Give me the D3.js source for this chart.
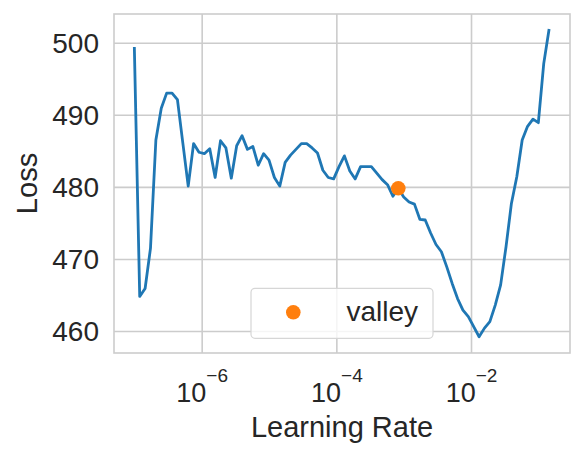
<!DOCTYPE html>
<html>
<head>
<meta charset="utf-8">
<script src="https://cdn.jsdelivr.net/npm/d3@7/dist/d3.min.js"></script>
<style>
  html, body { margin: 0; padding: 0; background: #fff; }
  svg { display: block; }
  text { font-family: "Liberation Sans", Arial, sans-serif; fill: #262626; }
</style>
</head>
<body>
<svg id="chart" width="584" height="459"></svg>
<script>
// Learning rates (exponential schedule)
const learningRates = [
  1.000e-7, 1.202e-7, 1.445e-7, 1.738e-7, 2.089e-7, 2.512e-7, 3.020e-7, 3.631e-7, 4.365e-7, 5.248e-7,
  6.310e-7, 7.586e-7, 9.120e-7, 1.096e-6, 1.318e-6, 1.585e-6, 1.905e-6, 2.291e-6, 2.754e-6, 3.311e-6,
  3.981e-6, 4.786e-6, 5.754e-6, 6.918e-6, 8.318e-6, 1.000e-5, 1.202e-5, 1.445e-5, 1.738e-5, 2.089e-5,
  2.512e-5, 3.020e-5, 3.631e-5, 4.365e-5, 5.248e-5, 6.310e-5, 7.586e-5, 9.120e-5, 1.096e-4, 1.318e-4,
  1.585e-4, 1.905e-4, 2.291e-4, 2.754e-4, 3.311e-4, 3.981e-4, 4.786e-4, 5.754e-4, 6.918e-4, 8.318e-4,
  1.000e-3, 1.202e-3, 1.445e-3, 1.738e-3, 2.089e-3, 2.512e-3, 3.020e-3, 3.631e-3, 4.365e-3, 5.248e-3,
  6.310e-3, 7.586e-3, 9.120e-3, 1.096e-2, 1.318e-2, 1.585e-2, 1.905e-2, 2.291e-2, 2.754e-2, 3.311e-2,
  3.981e-2, 4.786e-2, 5.754e-2, 6.918e-2, 8.318e-2, 1.000e-1, 1.202e-1, 1.445e-1
];
// Loss values
const losses = [
  499.4, 464.8, 465.9, 471.5, 486.5, 490.9, 493.0, 493.0, 492.1, 486.1,
  480.1, 486.0, 484.8, 484.6, 485.3, 481.3, 486.4, 485.4, 481.2, 485.7,
  487.1, 485.2, 485.6, 483.0, 484.6, 483.7, 481.3, 480.1, 483.4, 484.4,
  485.2, 486.0, 486.0, 485.4, 484.7, 482.3, 481.3, 481.1, 482.8, 484.3,
  482.2, 481.1, 482.8, 482.8, 482.8, 481.9, 481.0, 480.3, 478.7, 479.8,
  478.6, 477.9, 477.6, 475.5, 475.4, 473.6, 472.0, 471.0, 468.9, 466.6,
  464.5, 462.9, 462.0, 460.6, 459.2, 460.4, 461.3, 463.6, 466.4, 471.7,
  477.7, 481.4, 486.5, 488.4, 489.4, 488.9, 497.1, 501.9
];
// Suggested point
const valleyLabel = ["valley"];
const valleyLr = [8.318e-4];
const valleyLoss = [479.8];
// Tick values / labels
const xTickValues = [1e-6, 1e-4, 1e-2];
const xTickExponents = ["\u22126", "\u22124", "\u22122"];
const yTickValues = [460, 470, 480, 490, 500];
const xLabel = "Learning Rate";
const yLabel = "Loss";

(function () {
const svg = d3.select("#chart");
const mLeft = 114, mRight = 570, mTop = 14, mBottom = 353;

const x = d3.scaleLog().domain([Math.pow(10, -7.302), Math.pow(10, -0.530)]).range([mLeft, mRight]);
const y = d3.scaleLinear().domain([456.95, 503.98]).range([mBottom, mTop]);

const gridColor = "#cccccc";
const fontFam = '"Liberation Sans", Arial, sans-serif';

// Y axis with gridlines
const gy = svg.append("g").attr("transform", `translate(${mLeft},0)`)
  .call(d3.axisLeft(y).tickValues(yTickValues).tickSize(-(mRight - mLeft)).tickPadding(15).tickFormat(d3.format("d")));
gy.select(".domain").remove();
gy.selectAll(".tick line").attr("stroke", gridColor).attr("stroke-width", 1.6);
gy.selectAll(".tick text").attr("font-size", 28).attr("fill", "#262626")
  .attr("font-family", fontFam).attr("dy", "0.35em");

// X axis with gridlines
const gx = svg.append("g").attr("transform", `translate(0,${mBottom})`)
  .call(d3.axisBottom(x).tickValues(xTickValues).tickSize(-(mBottom - mTop)).tickFormat(() => ""));
gx.select(".domain").remove();
gx.selectAll(".tick line").attr("stroke", gridColor).attr("stroke-width", 1.6);
gx.selectAll(".tick text").remove();
gx.selectAll(".tick").each(function (d, i) {
  const t = d3.select(this).append("text")
    .attr("y", 48.7).attr("text-anchor", "middle")
    .attr("font-family", fontFam).attr("fill", "#262626");
  t.append("tspan").attr("font-size", 27).text("10");
  t.append("tspan").attr("font-size", 19).attr("dy", -20).text(xTickExponents[i]);
});

// Spines
svg.append("rect").attr("x", mLeft).attr("y", mTop).attr("width", mRight - mLeft).attr("height", mBottom - mTop)
  .attr("fill", "none").attr("stroke", gridColor).attr("stroke-width", 1.6);

// Loss curve
const line = d3.line().x((d, i) => x(learningRates[i])).y(d => y(d));
svg.append("path").datum(losses).attr("d", line)
  .attr("fill", "none").attr("stroke", "#1f77b4").attr("stroke-width", 2.8)
  .attr("stroke-linejoin", "round").attr("stroke-linecap", "butt");

// Valley point
svg.selectAll("circle.valley").data(valleyLoss).enter().append("circle")
  .attr("class", "valley")
  .attr("cx", (d, i) => x(valleyLr[i])).attr("cy", d => y(d)).attr("r", 7.3)
  .attr("fill", "#ff7f0e");

// Axis labels
svg.append("text").attr("x", (mLeft + mRight) / 2).attr("y", 437.3).attr("text-anchor", "middle")
  .attr("font-size", 29).text(xLabel);
svg.append("text").attr("transform", `translate(37,${(mTop + mBottom) / 2}) rotate(-90)`)
  .attr("text-anchor", "middle").attr("font-size", 29).text(yLabel);

// Legend
const lg = svg.append("g");
lg.append("rect").attr("x", 251).attr("y", 288.3).attr("width", 182).attr("height", 50).attr("rx", 4)
  .attr("fill", "#ffffff").attr("fill-opacity", 0.8).attr("stroke", "#d6d6d6").attr("stroke-width", 1.2);
lg.append("circle").attr("cx", 293.3).attr("cy", 312.3).attr("r", 7.3).attr("fill", "#ff7f0e");
lg.append("text").attr("x", 346.5).attr("y", 320.5).attr("font-size", 28).text(valleyLabel[0]);
})();
</script>
</body>
</html>
